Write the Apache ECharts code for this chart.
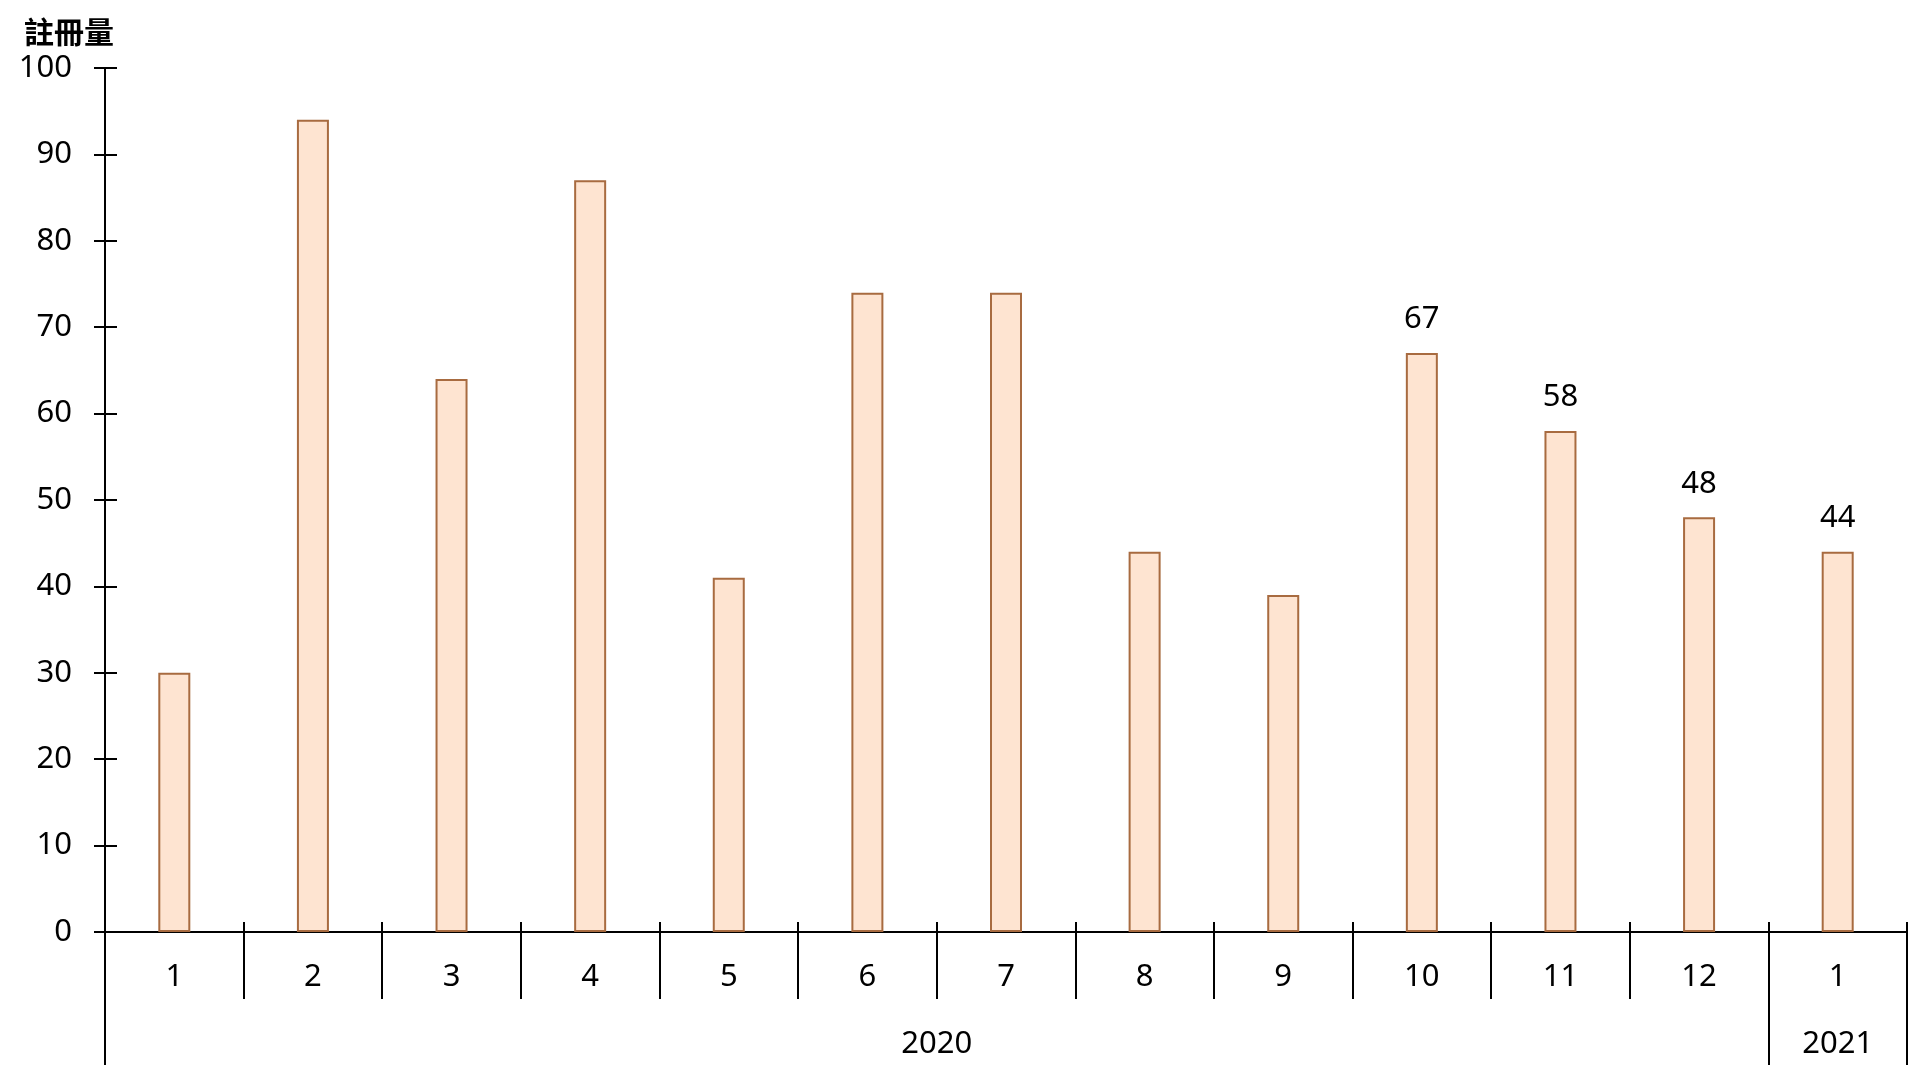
<!DOCTYPE html>
<html>
<head>
<meta charset="utf-8">
<script src="https://cdn.jsdelivr.net/npm/echarts@6/dist/echarts.min.js"></script>
<style>
html,body{margin:0;padding:0;background:#fff;}
#chart{width:1920px;height:1080px;}
</style>
</head>
<body>
<div id="chart"></div>
<script>
// ---- data ----
var months = ['1','2','3','4','5','6','7','8','9','10','11','12','1'];
var registrations = [30, 94, 64, 87, 41, 74, 74, 44, 39, 67, 58, 48, 44];
var labelledMonths = [false,false,false,false,false,false,false,false,false,true,true,true,true];
var years = ['2020', '2021'];
var monthsPerYear = [12, 1];
var yTicks = [0, 10, 20, 30, 40, 50, 60, 70, 80, 90, 100];
var yName = '註冊量';

// ---- derived ----
var yearBounds = [0];
var yearCenters = [];
var acc = 0;
monthsPerYear.forEach(function (n) {
  yearCenters.push(acc + n / 2);
  acc += n;
  yearBounds.push(acc);
});

var FONT = '"Noto Sans", "Noto Sans CJK TC", sans-serif';
var FS = 31;
var axisColor = '#000';

var chart = echarts.init(document.getElementById('chart'), null, {renderer: 'canvas'});
chart.setOption({
  backgroundColor: '#ffffff',
  animation: false,
  grid: {left: 105, right: 13, top: 68, bottom: 148, containLabel: false, outerBoundsMode: 'none'},
  xAxis: [
    {
      type: 'category', data: months, position: 'bottom', boundaryGap: true,
      axisLine: {show: true, onZero: false, lineStyle: {color: axisColor, width: 2}},
      axisTick: {show: true, interval: 0, length: 67, lineStyle: {color: axisColor, width: 2}},
      axisLabel: {interval: 0, margin: 30, color: '#000', fontSize: FS, fontFamily: FONT},
      splitLine: {show: false}
    },
    {
      type: 'value', position: 'bottom', min: 0, max: months.length,
      axisLine: {show: false, onZero: false},
      axisTick: {show: true, customValues: yearBounds, length: 133, lineStyle: {color: axisColor, width: 2}},
      axisLabel: {
        show: true, customValues: yearCenters, margin: 97, color: '#000', fontSize: FS, fontFamily: FONT,
        formatter: function (v) {
          var i = yearCenters.indexOf(v);
          return i >= 0 ? years[i] : '';
        }
      },
      splitLine: {show: false}
    },
    {
      type: 'category', data: months, position: 'bottom', boundaryGap: true,
      axisLine: {show: false, onZero: false},
      axisTick: {show: true, inside: true, interval: 0, length: 10, lineStyle: {color: axisColor, width: 2}},
      axisLabel: {show: false},
      splitLine: {show: false}
    }
  ],
  yAxis: [
    {
      type: 'value', position: 'left', min: yTicks[0], max: yTicks[yTicks.length - 1],
      interval: yTicks[1] - yTicks[0],
      name: yName, nameLocation: 'end', nameGap: 21,
      nameTextStyle: {color: '#000', fontSize: 30, fontWeight: 'bold', fontFamily: '"Noto Sans CJK TC", sans-serif', align: 'right', padding: [0, -9, 0, 0]},
      axisLine: {show: true, onZero: false, lineStyle: {color: axisColor, width: 2}},
      axisTick: {show: true, length: 11, lineStyle: {color: axisColor, width: 2}},
      axisLabel: {margin: 33, color: '#000', fontSize: FS, fontFamily: FONT},
      splitLine: {show: false}
    },
    {
      type: 'value', position: 'left', min: yTicks[0], max: yTicks[yTicks.length - 1],
      interval: yTicks[1] - yTicks[0],
      axisLine: {show: false, onZero: false},
      axisTick: {show: true, inside: true, length: 12, lineStyle: {color: axisColor, width: 2}},
      axisLabel: {show: false},
      splitLine: {show: false}
    }
  ],
  series: [{
    type: 'bar',
    xAxisIndex: 0, yAxisIndex: 0,
    barWidth: 32,
    itemStyle: {color: '#FEE4D1', borderColor: '#A86B40', borderWidth: 2},
    label: {show: false, position: 'top', distance: 18, color: '#000', fontSize: FS, fontFamily: FONT},
    data: registrations.map(function (v, i) {
      return {value: v, label: {show: labelledMonths[i]}};
    })
  }]
});
</script>
</body>
</html>
